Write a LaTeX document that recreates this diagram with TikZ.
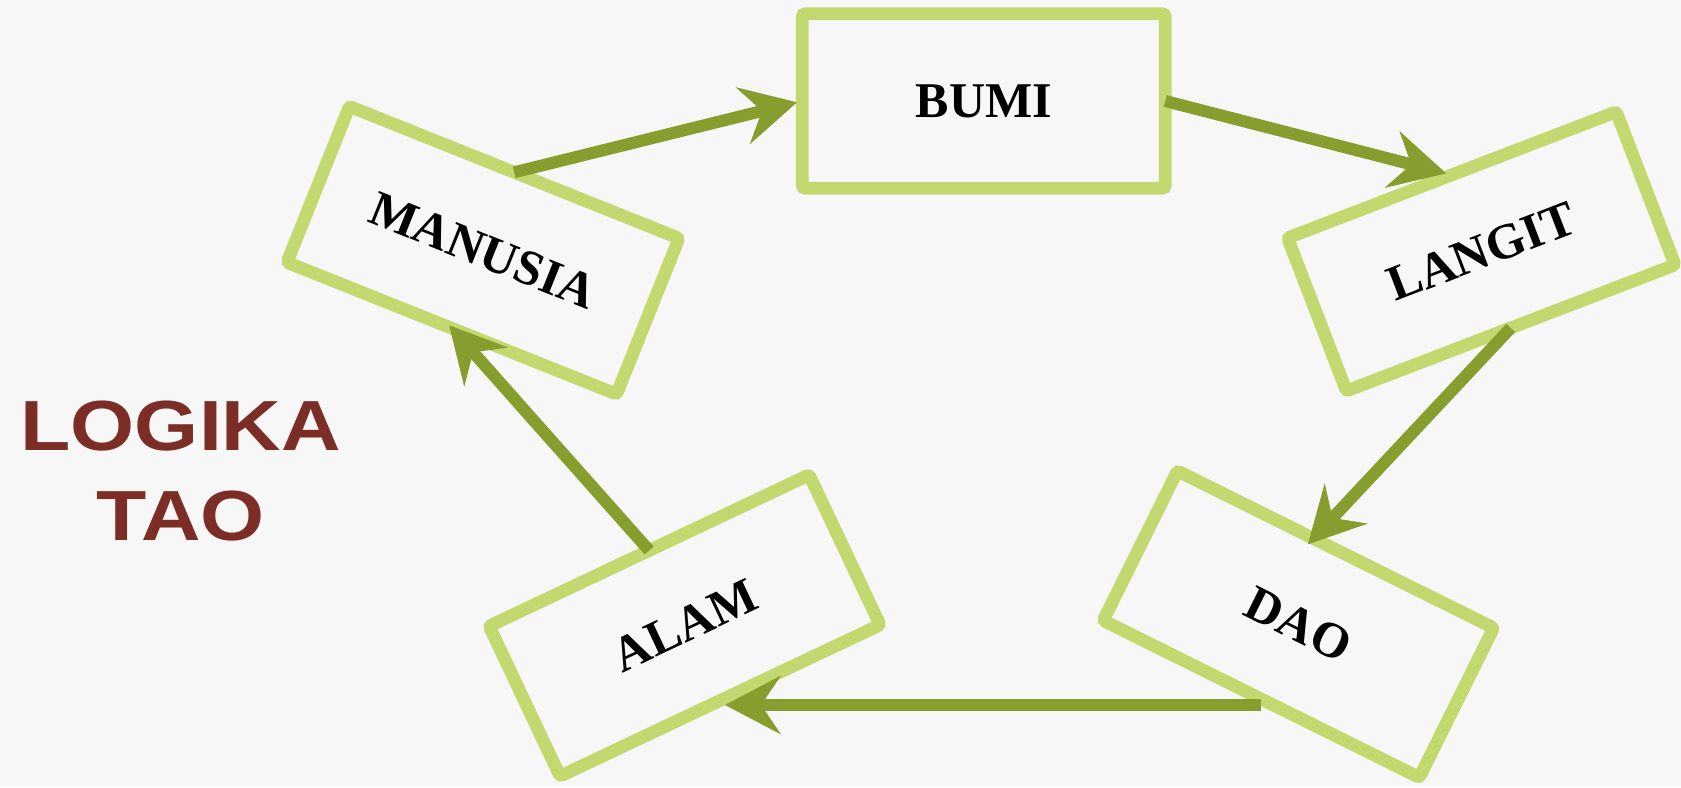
\documentclass[tikz,border=0pt]{standalone}
\usepackage{fontspec}
\setmainfont{Liberation Serif}
\newfontfamily\titlefont{Liberation Sans}
\usetikzlibrary{arrows.meta,calc}
\definecolor{bg}{RGB}{247,247,247}
\definecolor{boxgreen}{RGB}{195,216,110}
\definecolor{arrowgreen}{RGB}{135,157,45}
\definecolor{titlered}{RGB}{123,45,38}
\begin{document}
\begin{tikzpicture}[x=1pt,y=-1pt,
  box/.style={draw=boxgreen, line width=12.7pt, rounded corners=3pt, inner sep=0pt, outer sep=0pt,
    minimum width=354pt, minimum height=166pt, font=\bfseries\fontsize{50}{60}\selectfont, text=black},
  flow/.style={draw=arrowgreen, line width=12pt,
    -{Stealth[length=56pt,width=59pt,inset=20pt,line width=0pt]}},
  title/.style={font=\titlefont\bfseries\fontsize{71}{90}\selectfont, text=titlered, align=center, inner sep=0pt}
]
\fill[bg] (0,0) rectangle (1681,787);
\useasboundingbox (0,0) rectangle (1681,787);

\node[box, minimum width=363pt, minimum height=174.5pt] (bumi) at (983.8,101) {BUMI};
\node[box, rotate=-21.8, minimum width=355pt, minimum height=168pt] (manusia) at (483,250.3) {MANUSIA};
\node[box, rotate=21, minimum width=352pt, minimum height=164pt] (langit) at (1481.3,251.4) {LANGIT};
\node[box, rotate=-26.4, minimum width=353pt, minimum height=167pt] (dao) at (1298.4,624.2) {DAO};
\node[box, rotate=25.3, minimum width=354pt, minimum height=166pt] (alam) at (684.6,625.5) {ALAM};

\node[title] (judul) at (180.7,471.5) {\scalebox{1.16}[1]{LOGIKA}\\\scalebox{1.16}[1]{TAO}};

\coordinate (daoout) at ([yshift=-6pt]dao.south);

\draw[flow, shorten >=5.5pt] (manusia.north) -- (bumi.west);
\draw[flow, shorten >=6pt] (bumi.east) -- (langit.north);
\draw[flow, shorten >=-8pt] (langit.south) -- ($(dao.north west)!0.43!(dao.north east)$);
\draw[flow, shorten >=5pt] (daoout) -- (daoout -| alam.south);
\draw[flow, shorten >=-4pt] (alam.north) -- (manusia.south);
\end{tikzpicture}
\end{document}
